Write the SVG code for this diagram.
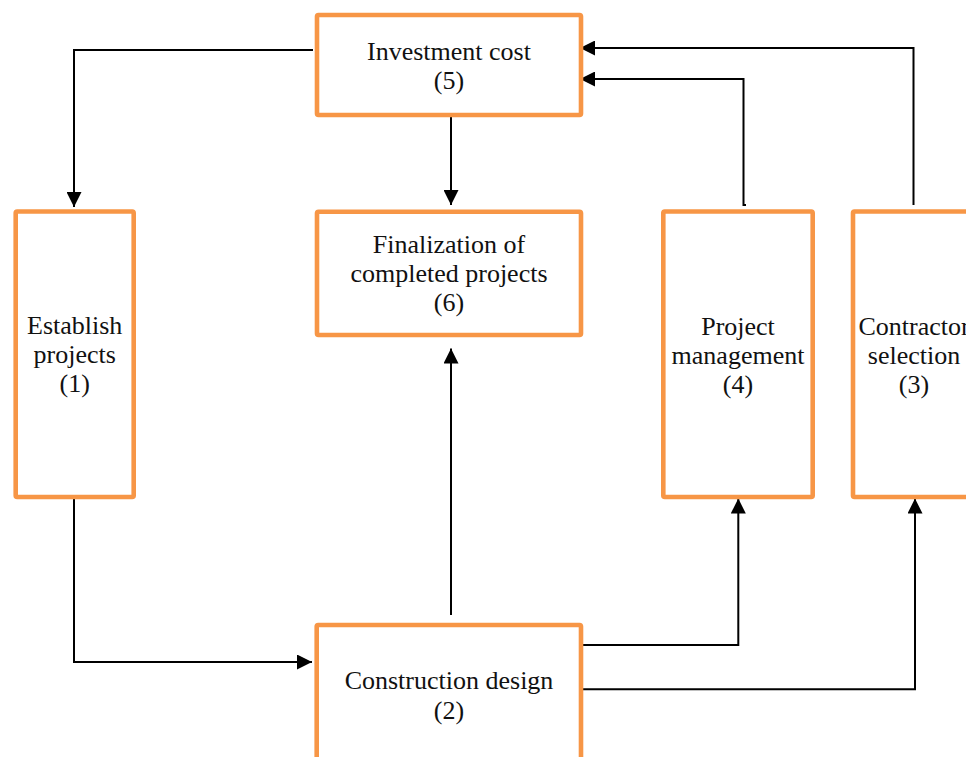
<svg xmlns="http://www.w3.org/2000/svg" width="966" height="757" viewBox="0 0 966 757">
<style>
.box{fill:#ffffff;stroke:#F79646;stroke-width:4.6;}
.lbl{font-family:"Liberation Serif","Times New Roman",serif;font-size:26px;fill:#111111;text-anchor:middle;}
.con{fill:none;stroke:#000000;stroke-width:2;marker-end:url(#arr);}
.plain{fill:none;stroke:#000000;stroke-width:2;}
</style>
<defs>
<marker id="arr" markerUnits="userSpaceOnUse" markerWidth="15" markerHeight="15" refX="15" refY="7.5" orient="auto">
<path d="M0,0 L15,7.5 L0,15 Z" fill="#000000"/>
</marker>
</defs>
<rect width="966" height="757" fill="#ffffff"/>
<g id="connectors">
<path class="con" d="M313,50 H74 V207"/>
<path class="con" d="M451,112 V205"/>
<path class="con" d="M74,499 V662 H312"/>
<path class="con" d="M451,615 V348.5"/>
<path class="con" d="M581,645 H738.3 V498.5"/>
<path class="con" d="M581,689.3 H915 V498.5"/>
<path class="con" d="M746,205 H743.5 V79 H580"/>
<path class="con" d="M913.5,205 V48 H580"/>
</g>
<g id="node5">
<rect class="box" x="317" y="15" width="264" height="100" rx="1.5"/>
<text class="lbl" x="449" y="60">Investment cost</text>
<text class="lbl" x="449" y="89">(5)</text>
</g>
<g id="node6">
<rect class="box" x="317" y="211.7" width="264" height="123.3" rx="1.5"/>
<text class="lbl" x="449" y="253">Finalization of</text>
<text class="lbl" x="449" y="282">completed projects</text>
<text class="lbl" x="449" y="311">(6)</text>
</g>
<g id="node1">
<rect class="box" x="15.7" y="211.5" width="118" height="285.5" rx="1.5"/>
<text class="lbl" x="74.7" y="334">Establish</text>
<text class="lbl" x="74.7" y="363">projects</text>
<text class="lbl" x="74.7" y="392">(1)</text>
</g>
<g id="node4">
<rect class="box" x="663.3" y="211.5" width="149.4" height="285.5" rx="1.5"/>
<text class="lbl" x="738" y="335">Project</text>
<text class="lbl" x="738" y="364">management</text>
<text class="lbl" x="738" y="393">(4)</text>
</g>
<g id="node3">
<rect class="box" x="853" y="211.5" width="122" height="285.5" rx="1.5"/>
<text class="lbl" x="914" y="335">Contractor</text>
<text class="lbl" x="914" y="364">selection</text>
<text class="lbl" x="914" y="393">(3)</text>
</g>
<g id="node2">
<rect class="box" x="316.7" y="625" width="264.3" height="160" rx="1.5"/>
<text class="lbl" x="449" y="688.5">Construction design</text>
<text class="lbl" x="449" y="719">(2)</text>
</g>
</svg>
